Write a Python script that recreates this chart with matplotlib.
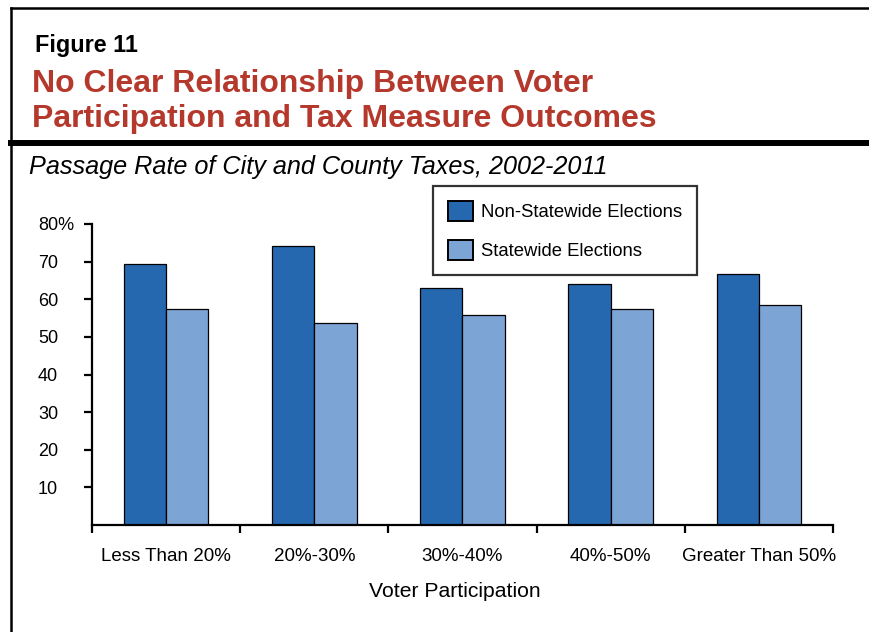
"""Grouped bar chart: passage rate of city and county taxes by voter participation."""
import matplotlib

matplotlib.use("Agg")
import matplotlib.pyplot as plt
from matplotlib.lines import Line2D
import numpy as np

# data
categories = ["Less Than 20%", "20%-30%", "30%-40%", "40%-50%", "Greater Than 50%"]
non_statewide = [69.4, 74.1, 62.9, 64.0, 66.7]
statewide = [57.3, 53.7, 55.9, 57.5, 58.5]
series_names = ["Non-Statewide Elections", "Statewide Elections"]
y_ticks = [10, 20, 30, 40, 50, 60, 70, 80]
y_tick_labels = ["10", "20", "30", "40", "50", "60", "70", "80%"]


def main():
    W, H = 870, 632
    plt.rcParams["font.family"] = ["Liberation Sans", "DejaVu Sans"]
    fig = plt.figure(figsize=(W / 100, H / 100), dpi=100)

    def fx(px):
        return px / W

    def fy(py):
        return 1 - py / H

    # frame lines
    fig.add_artist(Line2D([fx(11), 1], [fy(8), fy(8)], color="black", lw=1.8))
    fig.add_artist(Line2D([fx(11), fx(11)], [fy(8), 0], color="black", lw=1.8))
    fig.add_artist(Line2D([fx(11), 1], [fy(142.5), fy(142.5)], color="black", lw=4.3))

    # headings
    red = "#B5382C"
    fig.text(fx(35), fy(52), "Figure 11", fontsize=16.8, fontweight="bold",
             va="baseline", ha="left")
    fig.text(fx(32), fy(92), "No Clear Relationship Between Voter", fontsize=23,
             fontweight="bold", color=red, va="baseline", ha="left")
    fig.text(fx(32), fy(127.5), "Participation and Tax Measure Outcomes", fontsize=23,
             fontweight="bold", color=red, va="baseline", ha="left")
    fig.text(fx(29), fy(174), "Passage Rate of City and County Taxes, 2002-2011",
             fontsize=18.2, style="italic", va="baseline", ha="left")

    # axes
    ax = fig.add_axes([fx(92), fy(525), fx(833) - fx(92), fy(224) - fy(525)])
    x = np.arange(len(categories))
    w = 0.286
    dark = "#2668B0"
    light = "#7CA5D6"
    ax.bar(x - w / 2, non_statewide, w, color=dark, edgecolor="black", lw=0.9,
           label=series_names[0])
    ax.bar(x + w / 2, statewide, w, color=light, edgecolor="black", lw=0.9,
           label=series_names[1])

    ax.set_xlim(-0.5, len(categories) - 0.5)
    ax.set_ylim(0, 80)
    for side in ("top", "right"):
        ax.spines[side].set_visible(False)
    for side in ("left", "bottom"):
        ax.spines[side].set_linewidth(1.6)

    ax.set_yticks(y_ticks)
    ax.set_yticklabels(y_tick_labels)
    ax.tick_params(axis="y", direction="out", length=5.8, width=1.6, pad=33,
                   labelsize=13)
    for lab in ax.get_yticklabels():
        lab.set_horizontalalignment("left")

    ax.set_xticks(np.arange(-0.5, len(categories), 1.0))
    ax.set_xticklabels([])
    ax.set_xticks(x, minor=True)
    ax.set_xticklabels(categories, minor=True)
    ax.tick_params(axis="x", which="major", direction="out", length=5.8, width=1.6)
    ax.tick_params(axis="x", which="minor", length=0, pad=16.5, labelsize=13.5)

    fig.text(fx(455), fy(597), "Voter Participation", fontsize=15.2,
             ha="center", va="baseline")

    leg = ax.legend(loc="upper left", bbox_to_anchor=(fx(433), fy(186)),
                    bbox_transform=fig.transFigure, borderaxespad=0,
                    fontsize=13.3, frameon=True, fancybox=False,
                    handlelength=1.36, handleheight=1.3, handletextpad=0.45,
                    labelspacing=1.0, borderpad=0.8)
    leg.get_frame().set_edgecolor("black")
    leg.get_frame().set_linewidth(1.6)
    for h in leg.legend_handles:
        h.set_linewidth(1.4)

    fig.savefig("out.png", dpi=100)


if __name__ == "__main__":
    main()
